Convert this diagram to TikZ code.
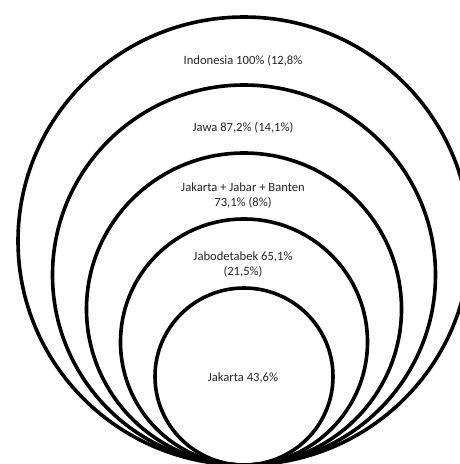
\documentclass[tikz,border=0pt]{standalone}
\usepackage{fontspec}
\setmainfont{Carlito}
\begin{document}
\begin{tikzpicture}[x=1pt,y=-1pt,
  ring/.style={draw=black,line width=3.6pt},
  lbl/.style={font=\fontsize{12.6}{15}\selectfont,align=center,inner sep=0pt,text=black!85}]
\useasboundingbox (0,0) rectangle (459,464);
\fill[white] (0,0) rectangle (459,464);
\draw[ring] (244,{465-224}) ellipse [x radius=226,y radius=224];
\draw[ring] (244,{465-190}) ellipse [x radius=191.5,y radius=190];
\draw[ring] (244,{465-156}) ellipse [x radius=157.5,y radius=156];
\draw[ring] (244,{465-123}) ellipse [x radius=123.5,y radius=123];
\draw[ring] (244,{465-88.5}) ellipse [x radius=89,y radius=88.5];
\node[lbl] (indo) at (243,61) {Indonesia 100\% (12,8\%};
\node[lbl] (jawa) at (243,128) {Jawa 87,2\% (14,1\%)};
\node[lbl] (jjb) at (243,195) {Jakarta + Jabar + Banten\\73,1\% (8\%)};
\node[lbl] (jabo) at (243,264.5) {Jabodetabek 65,1\%\\(21,5\%)};
\node[lbl] (jkt) at (243,378) {Jakarta 43,6\%};
\end{tikzpicture}
\end{document}
